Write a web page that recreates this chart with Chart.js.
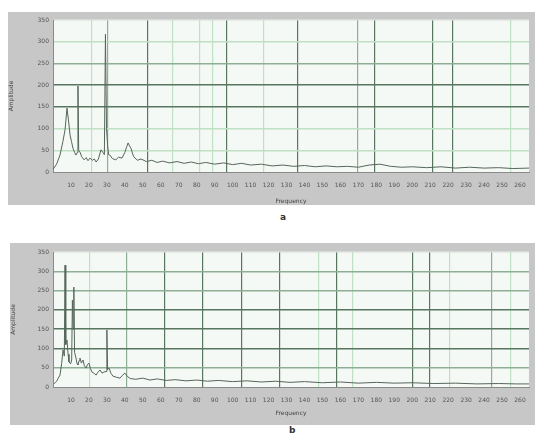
<!DOCTYPE html>
<html>
<head>
<meta charset="utf-8">
<script src="https://cdn.jsdelivr.net/npm/chart.js@4/dist/chart.umd.min.js"></script>
<style>
  body { margin: 0; background: #fff; width: 535px; height: 438px; position: relative; overflow: hidden; font-family: "DejaVu Sans", sans-serif; }
  .panel { position: absolute; }
  .cap { position: absolute; font-size: 9px; font-weight: bold; color: #333; }
</style>
</head>
<body>
<div class="panel" style="left:8px;top:12px;width:527px;height:193px"><canvas id="specA"></canvas></div>
<div class="cap" style="left:280px;top:212px">a</div>
<div class="panel" style="left:10px;top:243px;width:525px;height:182px"><canvas id="specB"></canvas></div>
<div class="cap" style="left:289px;top:425px">b</div>
<script>
// axis ticks
const xTickValues = [10, 20, 30, 40, 50, 60, 70, 80, 90, 100, 110, 120, 130, 140, 150, 160, 170, 180, 190, 200, 210, 220, 230, 240, 250, 260];
const yTickValues = [0, 50, 100, 150, 200, 250, 300, 350];

// spectrum a
const freqA = [0, 2, 3.9, 5.5, 6.7, 7.8, 8.6, 9.5, 10.3, 11.1, 12, 12.8, 13.5, 13.9, 14.3, 15, 16, 17.3, 18.5, 19.5,
  20.6, 22, 23, 24, 25.3, 26.7, 27.8, 28.6, 29.2, 29.8, 30.4, 31, 31.7, 33, 35, 36.5, 38.4, 40, 41,
  41.8, 42.6, 43.4, 44.3, 45, 47, 49, 52, 55, 58, 61, 65, 69, 73, 77, 81, 85, 90, 95, 100,
  105, 110, 116, 122, 128, 134, 140, 146, 152, 158, 164, 170, 176, 182, 188, 194, 200, 208, 216, 224,
  232, 240, 248, 256, 265];
const ampA = [6, 18, 39, 70, 97, 147, 120, 85, 70, 55, 45, 39, 45, 198, 50, 46, 35, 28, 33, 26,
  32, 27, 30, 23, 30, 51, 45, 40, 317, 100, 60, 40, 39, 31, 28, 34, 32, 45, 58,
  67, 60, 55, 42, 35, 27, 30, 24, 27, 22, 25, 21, 24, 20, 23, 19, 22, 18, 21, 17,
  20, 16, 18, 14, 16, 13, 15, 12, 14, 12, 13, 11, 16, 18, 13, 11, 12, 10, 12, 9,
  11, 9, 10, 8, 9];

// spectrum b
const freqB = [0.5, 2, 3.9, 4.8, 5.6, 6.3, 6.7, 7.1, 7.8, 8.4, 8.9, 9.8, 10.4, 10.8, 11.2, 11.6, 12, 12.8, 13.4, 13.9, 14.5,
  15, 15.8, 16.7, 17.5, 18.4, 19.2, 20, 20.8, 21.7, 23, 24, 25, 26.2, 27.3, 28.4, 29.6, 30, 30.4, 31.2, 32.3,
  33.4, 35.5, 37.3, 38.6, 40, 41.5, 43, 46, 50, 54, 58, 63, 68, 74, 80, 86, 92, 100, 108, 116,
  124, 132, 140, 150, 160, 170, 180, 190, 200, 212, 224, 236, 248, 258, 265];
const ampB = [8, 15, 31, 60, 96, 80, 316, 110, 122, 85, 65, 60, 70, 225, 150, 259, 90, 75, 60, 57, 68,
  75, 62, 70, 55, 49, 58, 62, 48, 39, 35, 31, 38, 44, 36, 39, 40, 148, 45, 49, 35,
  28, 25, 23, 30, 36, 27, 22, 20, 23, 18, 21, 17, 19, 16, 18, 15, 17, 14, 16, 13,
  15, 12, 14, 11, 13, 10, 12, 10, 11, 9, 10, 8, 9, 8, 8];

// vertical grid lines (frequency, shade)
const vGridA = [21.7, 30.6, 52.9, 66.8, 81.8, 89, 96.9, 117, 136.4, 169.3, 179.3, 211.6, 222.2, 254.5];
const vShadeA = ['light', 'mid', 'dark', 'light', 'light', 'light', 'dark', 'light', 'dark', 'mid', 'dark', 'dark', 'dark', 'light'];
const vGridB = [20.6, 41.2, 62.4, 83.5, 105.2, 126.4, 147.6, 158.1, 167, 200.4, 209.9, 221, 244.4, 254.5];
const vShadeB = ['light', 'mid', 'dark', 'dark', 'dark', 'dark', 'light', 'dark', 'light', 'dark', 'dark', 'light', 'mid', 'light'];

// horizontal grid shades, bottom to top
const hShadeA = ['none', 'light', 'light', 'dark', 'dark', 'mid', 'light', 'pale'];
const hShadeB = ['none', 'mid', 'dark', 'dark', 'dark', 'mid', 'mid', 'pale'];

const shades = {
  dark: '#58765f',
  mid: '#8eae96',
  light: '#c0e0c4',
  pale: '#d6dcd6',
  none: 'rgba(0,0,0,0)'
};

const panelFill = {
  id: 'panelFill',
  beforeDraw(chart) {
    const { ctx, chartArea } = chart;
    ctx.save();
    ctx.fillStyle = '#c7c7c7';
    ctx.fillRect(0, 0, chart.width, chart.height);
    ctx.fillStyle = '#f5f9f5';
    ctx.fillRect(chartArea.left, chartArea.top, chartArea.right - chartArea.left, chartArea.bottom - chartArea.top);
    ctx.restore();
  }
};

const tickFont = { family: 'DejaVu Sans', size: 6 };

function makeSpectrum(id, freq, amp, vGrid, vShade, hShade, yWidth, xHeight, pad) {
  const points = freq.map((f, i) => ({ x: f, y: amp[i] }));
  return new Chart(document.getElementById(id), {
    type: 'line',
    data: {
      datasets: [{
        data: points,
        borderColor: '#56665b',
        borderWidth: 1,
        pointRadius: 0,
        tension: 0
      }]
    },
    options: {
      responsive: true,
      maintainAspectRatio: false,
      animation: false,
      layout: { padding: pad },
      plugins: { legend: { display: false }, tooltip: { enabled: false } },
      scales: {
        x: {
          type: 'linear',
          min: 0,
          max: 265,
          afterBuildTicks: (scale) => { scale.ticks = xTickValues.map(v => ({ value: v })); },
          afterFit: (scale) => { scale.height = xHeight; },
          grid: { display: false },
          border: { color: '#8a8a8a' },
          ticks: { autoSkip: false, maxRotation: 0, font: tickFont, color: '#555', padding: 2 },
          title: { display: true, text: 'Frequency', font: tickFont, color: '#444', padding: { top: 2, bottom: 0 } }
        },
        xg: {
          type: 'linear',
          position: 'bottom',
          min: 0,
          max: 265,
          afterBuildTicks: (scale) => { scale.ticks = vGrid.map(v => ({ value: v })); },
          afterFit: (scale) => { scale.height = 0; },
          ticks: { display: false },
          border: { display: false },
          grid: {
            drawTicks: false,
            lineWidth: 1.2,
            color: (c) => shades[vShade[c.index]] || shades.light
          }
        },
        y: {
          min: 0,
          max: 350,
          afterBuildTicks: (scale) => { scale.ticks = yTickValues.map(v => ({ value: v })); },
          afterFit: (scale) => { scale.width = yWidth; },
          border: { color: '#8a8a8a' },
          grid: {
            drawTicks: false,
            lineWidth: 1.4,
            color: (c) => shades[hShade[c.index]] || shades.light
          },
          ticks: { font: tickFont, color: '#555', padding: 4 },
          title: { display: true, text: 'Amplitude', font: tickFont, color: '#444', padding: { top: 0, bottom: 6 } }
        }
      }
    },
    plugins: [panelFill]
  });
}

makeSpectrum('specA', freqA, ampA, vGridA, vShadeA, hShadeA, 45, 33, { top: 8, right: 6, left: 0, bottom: 0 });
makeSpectrum('specB', freqB, ampB, vGridB, vShadeB, hShadeB, 43, 30, { top: 9, right: 6, left: 0, bottom: 8 });
</script>
</body>
</html>
